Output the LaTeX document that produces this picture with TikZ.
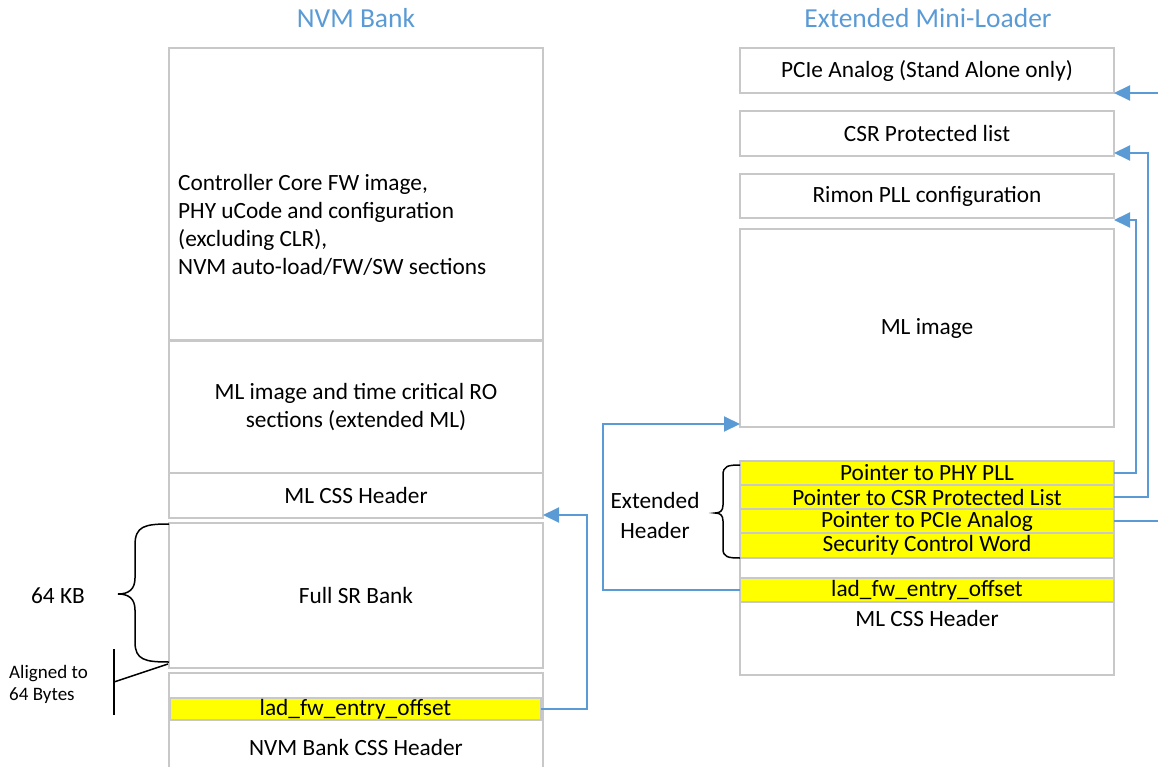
\documentclass[tikz,border=0pt]{standalone}
\usepackage{fontspec}
\setmainfont{Carlito}
\usetikzlibrary{arrows.meta,calc}
\definecolor{boxgray}{HTML}{C8C8C8}
\definecolor{linkblue}{HTML}{5B9BD5}
\definecolor{hlyellow}{HTML}{FFFF00}
\newcommand\mybodyfont{\fontsize{23.3}{28}\selectfont}
\newcommand\mytitlefont{\fontsize{27.5}{32}\selectfont}
\newcommand\mysmallfont{\fontsize{19}{22}\selectfont}
\begin{document}
\begin{tikzpicture}[x=1pt,y=-1pt,
  memblock/.style={draw=boxgray, line width=1.5pt, rectangle, inner sep=0pt, outer sep=0pt, minimum width=374pt, font=\mybodyfont},
  hlrow/.style={memblock, fill=hlyellow},
  conn/.style={draw=linkblue, line width=2pt, -{Triangle[length=16pt,width=15pt]}},
  titletext/.style={text=linkblue, font=\mytitlefont, inner sep=0pt},
  lbl/.style={font=\mybodyfont, inner sep=0pt},
  bracepath/.style={draw=black, line width=1.5pt}]
\useasboundingbox (0,0) rectangle (1158,767);

% titles
\node[titletext] (t1) at (356,18) {NVM Bank};
\node[titletext] (t2) at (928,18) {Extended Mini-Loader};

% NVM bank column
\node[memblock, minimum height=292pt] (nvmtop) at (356,194) {};
\node[lbl, anchor=west, align=left] (nvmtoptxt) at (178,225)
  {Controller Core FW image,\\PHY uCode and configuration\\(excluding CLR),\\NVM auto-load/FW/SW sections};
\node[memblock, minimum height=132pt, align=center] (mlimg) at (356,407)
  {ML image and time critical RO\\sections (extended ML)};
\node[memblock, minimum height=45pt] (mlcss) at (356,495.5) {ML CSS Header};
\node[memblock, minimum height=145pt] (fullsr) at (356,595.5) {Full SR Bank};
\node[memblock, minimum height=107pt] (nvmcss) at (356,726.5) {};
\node[hlrow, minimum width=371pt, minimum height=22pt] (nvmlad) at (355.5,709) {lad\_fw\_entry\_offset};
\node[lbl] (nvmcsstxt) at (356,747) {NVM Bank CSS Header};

% left annotations
\draw[bracepath] (169,524) .. controls (145,524) and (135,526) .. (135,545) -- (135,578)
  .. controls (135,590) and (128,594) .. (118,594)
  .. controls (128,594) and (135,598) .. (135,610) -- (135,642)
  .. controls (135,660) and (145,662) .. (169,662);
\node[lbl] (kb) at (58,596) {64 KB};
\draw[bracepath] (114,649) -- (114,715);
\draw[bracepath] (114,682) -- (168,664);
\node[font=\mysmallfont, inner sep=0pt, anchor=west, align=left] (aligned) at (9,684) {Aligned to\\64 Bytes};

% Extended mini-loader column
\node[memblock, minimum height=45pt] (pcie) at (927,70.5) {PCIe Analog (Stand Alone only)};
\node[memblock, minimum height=45pt] (csr) at (927,133.5) {CSR Protected list};
\node[memblock, minimum height=44pt] (rimon) at (927,196) {Rimon PLL configuration};
\node[memblock, minimum height=198pt] (mlimage) at (927,328) {ML image};
\node[hlrow, minimum height=24pt] (phy) at (927,473) {Pointer to PHY PLL};
\node[hlrow, minimum height=24pt] (csrp) at (927,497) {Pointer to CSR Protected List};
\node[hlrow, minimum height=24pt] (pciep) at (927,521) {Pointer to PCIe Analog};
\node[hlrow, minimum height=25pt] (scw) at (927,545.5) {Security Control Word};
\node[memblock, minimum height=20pt] (blank) at (927,568) {};
\node[hlrow, minimum height=24pt] (lad2) at (927,590) {lad\_fw\_entry\_offset};
\node[memblock, minimum height=73pt] (mlcss2) at (927,638.5) {};
\node[lbl] (mlcss2txt) at (927,618) {ML CSS Header};

\draw[bracepath] (740,465) .. controls (728,465) and (723,466) .. (723,475) -- (723,505)
  .. controls (723,511) and (720,513) .. (715,513)
  .. controls (720,513) and (723,515) .. (723,521) -- (723,549)
  .. controls (723,557) and (728,558) .. (740,558);
\node[lbl, align=center, font=\fontsize{23.3}{30}\selectfont] (exthdr) at (655,515) {Extended\\Header};

% connectors
\draw[conn] (nvmlad.east) -- ++(46,0) |- ([yshift=3pt]mlcss.south east);
\draw[conn] (lad2.west) -- ++(-137,0) |- ([yshift=3pt]mlimage.south west);
\draw[conn] (phy.east) -- ++(22,0) |- ([yshift=-2pt]rimon.south east);
\draw[conn] (csrp.east) -- ++(34,0) |- ([yshift=3pt]csr.south east);
\draw[conn] (pciep.east) -- ++(50,0) |- (pcie.south east);
\end{tikzpicture}
\end{document}
